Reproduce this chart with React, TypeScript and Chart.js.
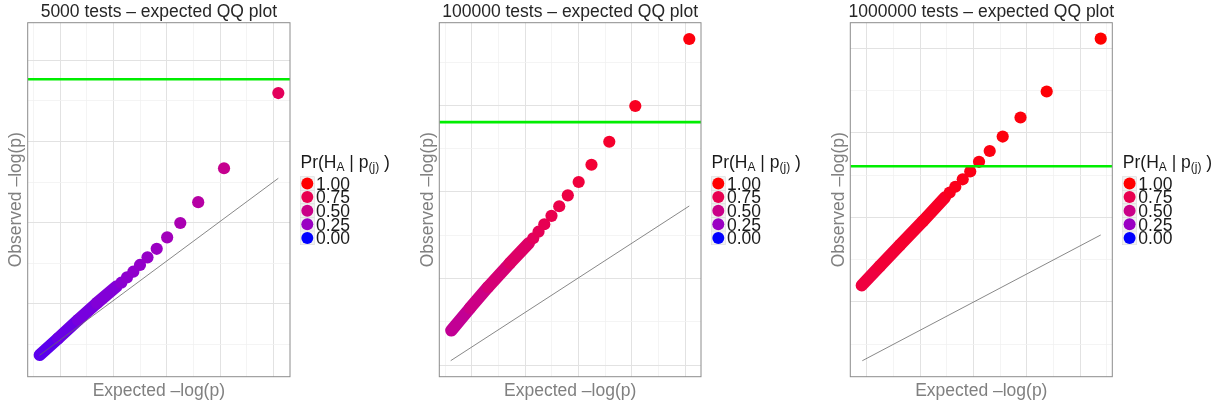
import React, { useEffect, useRef } from "react";
import { Chart, registerables } from "chart.js";

Chart.register(...registerables);

const FONT = '"Liberation Sans", Arial, Helvetica, sans-serif';

// ---------- text ----------
const panelTitles = [
  "5000 tests \u2013 expected QQ plot",
  "100000 tests \u2013 expected QQ plot",
  "1000000 tests \u2013 expected QQ plot",
];
const xAxisTitle = "Expected \u2013log(p)";
const yAxisTitle = "Observed \u2013log(p)";
const legendValues = [1.0, 0.75, 0.5, 0.25, 0.0];
const legendLabels = ["1.00", "0.75", "0.50", "0.25", "0.00"];

// ---------- panel 1 : 5000 tests ----------
const p1BandX = [0.614, 0.957, 1.332, 1.688, 2.05];
const p1BandY = [0.373, 0.576, 0.803, 1.012, 1.213];
const p1BandPr = [0.06, 0.09, 0.12, 0.15, 0.18];
const p1PointX = [2.144, 2.251, 2.369, 2.494, 2.635, 2.808, 3.004, 3.25, 3.586, 4.07, 5.088];
const p1PointY = [1.262, 1.328, 1.397, 1.48, 1.574, 1.679, 1.82, 1.996, 2.252, 2.669, 3.594];
const p1PointPr = [0.19, 0.2, 0.21, 0.22, 0.23, 0.25, 0.28, 0.32, 0.38, 0.47, 0.7];
const p1DiagX = [0.61, 5.088];
const p1DiagY = [0.369, 2.546];
const p1XLim = [0.389, 5.307];
const p1YLim = [0.106, 4.459];
const p1XGrid = [0.5, 1, 1.5, 2, 2.5, 3, 3.5, 4, 4.5, 5];
const p1YGrid = [0.5, 1, 1.5, 2, 2.5, 3, 3.5, 4];

// ---------- panel 2 : 100000 tests ----------
const p2BandX = [0.617, 0.968, 1.306, 1.718, 2.074];
const p2BandY = [1.399, 1.658, 1.901, 2.178, 2.409];
const p2BandPr = [0.42, 0.48, 0.55, 0.62, 0.68];
const p2PointX = [2.153, 2.253, 2.361, 2.496, 2.641, 2.802, 3.006, 3.246, 3.58, 4.068, 5.08];
const p2PointY = [2.464, 2.54, 2.626, 2.723, 2.834, 2.96, 3.114, 3.313, 3.579, 3.992, 4.766];
const p2PointPr = [0.7, 0.72, 0.74, 0.76, 0.78, 0.8, 0.83, 0.86, 0.89, 0.93, 0.98];
const p2DiagX = [0.606, 5.08];
const p2DiagY = [1.05, 2.837];
const p2XLim = [0.392, 5.3];
const p2YLim = [0.865, 4.954];
const p2XGrid = [0.5, 1, 1.5, 2, 2.5, 3, 3.5, 4, 4.5, 5];
const p2YGrid = [1, 1.5, 2, 2.5, 3, 3.5, 4, 4.5];

// ---------- panel 3 : 1000000 tests ----------
const p3BandX = [0.906, 1.249, 1.624, 2.056, 2.468];
const p3BandY = [1.195, 1.424, 1.672, 1.956, 2.237];
const p3BandPr = [0.8, 0.84, 0.87, 0.9, 0.93];
const p3PointX = [2.556, 2.661, 2.8, 2.941, 3.106, 3.306, 3.55, 3.884, 4.375, 5.388];
const p3PointY = [2.293, 2.362, 2.45, 2.542, 2.657, 2.785, 2.956, 3.181, 3.489, 4.114];
const p3PointPr = [0.94, 0.95, 0.95, 0.96, 0.97, 0.97, 0.98, 0.98, 0.99, 1.0];
const p3DiagX = [0.917, 5.388];
const p3DiagY = [0.303, 1.791];
const p3XLim = [0.692, 5.605];
const p3YLim = [0.114, 4.303];
const p3XGrid = [1, 1.5, 2, 2.5, 3, 3.5, 4, 4.5, 5, 5.5];
const p3YGrid = [0.5, 1, 1.5, 2, 2.5, 3, 3.5, 4];

// significance thresholds (green lines)
const greenLevels = [3.763, 3.805, 2.604];

// ---------- layout (not data) ----------
const layouts = [
  { left: 0, width: 410, padLeft: 27.7, padRight: 120 },
  { left: 410, width: 410, padLeft: 29.3, padRight: 119 },
  { left: 820, width: 403, padLeft: 30.3, padRight: 110.7 },
];
const PAD_TOP = 22.7;
const PAD_BOTTOM = 32.3;
const HEIGHT = 409;
const POINT_R = 6.1;

const bandXs = [p1BandX, p2BandX, p3BandX];
const bandYs = [p1BandY, p2BandY, p3BandY];
const bandPrs = [p1BandPr, p2BandPr, p3BandPr];
const pointXs = [p1PointX, p2PointX, p3PointX];
const pointYs = [p1PointY, p2PointY, p3PointY];
const pointPrs = [p1PointPr, p2PointPr, p3PointPr];
const diagXs = [p1DiagX, p2DiagX, p3DiagX];
const diagYs = [p1DiagY, p2DiagY, p3DiagY];
const xLims = [p1XLim, p2XLim, p3XLim];
const yLims = [p1YLim, p2YLim, p3YLim];
const xGrids = [p1XGrid, p2XGrid, p3XGrid];
const yGrids = [p1YGrid, p2YGrid, p3YGrid];

// ---------- colour scale: blue -> red interpolated in Lab ----------
function toLin(c: number) {
  c /= 255;
  return c <= 0.04045 ? c / 12.92 : Math.pow((c + 0.055) / 1.055, 2.4);
}
function rgb2lab(rgb: number[]) {
  const R = toLin(rgb[0]), G = toLin(rgb[1]), B = toLin(rgb[2]);
  const X = (0.4124564 * R + 0.3575761 * G + 0.1804375 * B) / 0.95047;
  const Y = 0.2126729 * R + 0.7151522 * G + 0.072175 * B;
  const Z = (0.0193339 * R + 0.119192 * G + 0.9503041 * B) / 1.08883;
  const f = (t: number) => (t > 0.008856 ? Math.cbrt(t) : 7.787 * t + 16 / 116);
  const fx = f(X), fy = f(Y), fz = f(Z);
  return [116 * fy - 16, 500 * (fx - fy), 200 * (fy - fz)];
}
function lab2rgb(lab: number[]) {
  const fy = (lab[0] + 16) / 116;
  const fx = fy + lab[1] / 500;
  const fz = fy - lab[2] / 200;
  const inv = (t: number) => (t * t * t > 0.008856 ? t * t * t : (t - 16 / 116) / 7.787);
  const X = 0.95047 * inv(fx), Y = inv(fy), Z = 1.08883 * inv(fz);
  const lin = [
    3.2404542 * X - 1.5371385 * Y - 0.4985314 * Z,
    -0.969266 * X + 1.8760108 * Y + 0.041556 * Z,
    0.0556434 * X - 0.2040259 * Y + 1.0572252 * Z,
  ];
  return lin.map((c) => {
    c = Math.max(0, Math.min(1, c));
    const s = c <= 0.0031308 ? 12.92 * c : 1.055 * Math.pow(c, 1 / 2.4) - 0.055;
    return Math.round(Math.max(0, Math.min(1, s)) * 255);
  });
}
const LAB_LOW = rgb2lab([0, 0, 255]);
const LAB_HIGH = rgb2lab([255, 0, 0]);
function prColor(t: number) {
  const l = LAB_LOW.map((v, i) => v + (LAB_HIGH[i] - v) * t);
  const [r, g, b] = lab2rgb(l);
  return `rgb(${r},${g},${b})`;
}

const isMajor = (v: number) => Math.abs(v - Math.round(v)) < 1e-6;
const GRID_MAJOR = "#e2e2e2";
const GRID_MINOR = "#f1f1f1";

function decorPlugin(idx: number) {
  return {
    id: "decor" + idx,
    afterDraw(chart: any) {
      const ctx: CanvasRenderingContext2D = chart.ctx;
      const a = chart.chartArea;
      ctx.save();
      // panel border
      ctx.strokeStyle = "#8c8c8c";
      ctx.lineWidth = 1;
      ctx.strokeRect(a.left, a.top, a.right - a.left, a.bottom - a.top);

      const cx = (a.left + a.right) / 2;
      ctx.textBaseline = "alphabetic";
      ctx.textAlign = "center";
      ctx.font = `17.5px ${FONT}`;
      ctx.fillStyle = "#262626";
      ctx.fillText(panelTitles[idx], cx, 17.3);

      ctx.fillStyle = "#808080";
      ctx.fillText(xAxisTitle, cx, 396);
      ctx.save();
      ctx.translate(a.left - 6.5, (a.top + a.bottom) / 2);
      ctx.rotate(-Math.PI / 2);
      ctx.fillText(yAxisTitle, 0, 0);
      ctx.restore();

      // legend title: Pr(H_A | p_(j) )
      ctx.textAlign = "left";
      ctx.fillStyle = "#1a1a1a";
      let x = a.right + 10.5;
      const by = 167.7;
      const big = `17.5px ${FONT}`;
      const small = `12px ${FONT}`;
      const parts: [string, string, number][] = [
        ["Pr(H", big, 0],
        ["A", small, 3],
        [" | p", big, 0],
        ["(j)", small, 3.5],
        [" )", big, 0],
      ];
      for (const [txt, font, dy] of parts) {
        ctx.font = font;
        ctx.fillText(txt, x, by + dy);
        x += ctx.measureText(txt).width;
      }

      // legend keys
      const kx = a.right + 17.3;
      for (let i = 0; i < legendValues.length; i++) {
        const cy = 183.5 + i * 13.6;
        ctx.fillStyle = "#f2f2f2";
        ctx.fillRect(kx - 7, cy - 6.8, 14, 13.6);
        ctx.strokeStyle = "#dadada";
        ctx.lineWidth = 0.6;
        ctx.strokeRect(kx - 7, cy - 6.8, 14, 13.6);
        ctx.beginPath();
        ctx.arc(kx, cy, 6, 0, Math.PI * 2);
        ctx.fillStyle = prColor(legendValues[i]);
        ctx.fill();
      }
      ctx.font = big;
      ctx.fillStyle = "#1a1a1a";
      for (let i = 0; i < legendLabels.length; i++) {
        const cy = 183.5 + i * 13.6;
        ctx.fillText(legendLabels[i], a.right + 26, cy + 6.3);
      }
      ctx.restore();
    },
  };
}

function buildConfig(idx: number): any {
  const lay = layouts[idx];
  const bx = bandXs[idx], by = bandYs[idx], bp = bandPrs[idx];
  const px = pointXs[idx], py = pointYs[idx], pp = pointPrs[idx];
  const xl = xLims[idx], yl = yLims[idx];
  const band = bx.map((v, i) => ({ x: v, y: by[i] }));
  const pts = px.map((v, i) => ({ x: v, y: py[i] }));
  const diag = diagXs[idx].map((v, i) => ({ x: v, y: diagYs[idx][i] }));
  const green = xl.map((v) => ({ x: v, y: greenLevels[idx] }));

  const gridOpts = {
    color: (c: any) => (isMajor(c.tick.value) ? GRID_MAJOR : GRID_MINOR),
    lineWidth: (c: any) => (isMajor(c.tick.value) ? 1 : 0.8),
    drawTicks: false,
  };

  return {
    type: "scatter",
    data: {
      datasets: [
        {
          data: green,
          showLine: true,
          borderColor: "#00ee00",
          borderWidth: 2.6,
          pointRadius: 0,
          order: 0,
        },
        {
          data: diag,
          showLine: true,
          borderColor: "#6a6a6a",
          borderWidth: 0.8,
          pointRadius: 0,
          order: 1,
        },
        {
          data: pts,
          showLine: false,
          pointRadius: POINT_R,
          pointHoverRadius: POINT_R,
          pointBorderWidth: 0,
          pointBackgroundColor: pp.map(prColor),
          pointBorderColor: pp.map(prColor),
          order: 2,
        },
        {
          data: band,
          showLine: true,
          borderWidth: POINT_R * 2,
          borderCapStyle: "round",
          borderJoinStyle: "round",
          borderColor: prColor(bp[0]),
          pointRadius: 0,
          segment: {
            borderColor: (c: any) => prColor((bp[c.p0DataIndex] + bp[c.p1DataIndex]) / 2),
          },
          order: 3,
        },
      ],
    },
    options: {
      animation: false,
      responsive: true,
      maintainAspectRatio: false,
      events: [],
      layout: {
        padding: { left: lay.padLeft, right: lay.padRight, top: PAD_TOP, bottom: PAD_BOTTOM },
      },
      plugins: { legend: { display: false }, tooltip: { enabled: false }, title: { display: false } },
      scales: {
        x: {
          type: "linear",
          position: "bottom",
          min: xl[0],
          max: xl[1],
          ticks: { display: false },
          border: { display: false },
          grid: gridOpts,
          afterBuildTicks: (s: any) => {
            s.ticks = xGrids[idx].map((v) => ({ value: v }));
          },
        },
        y: {
          type: "linear",
          position: "left",
          min: yl[0],
          max: yl[1],
          ticks: { display: false },
          border: { display: false },
          grid: gridOpts,
          afterBuildTicks: (s: any) => {
            s.ticks = yGrids[idx].map((v) => ({ value: v }));
          },
        },
      },
    },
    plugins: [decorPlugin(idx)],
  };
}

function Panel({ idx }: { idx: number }) {
  const ref = useRef<HTMLCanvasElement | null>(null);
  useEffect(() => {
    if (!ref.current) return;
    const chart = new Chart(ref.current, buildConfig(idx));
    return () => chart.destroy();
  }, [idx]);
  const lay = layouts[idx];
  return (
    <div style={{ position: "absolute", left: lay.left, top: 0, width: lay.width, height: HEIGHT }}>
      <canvas ref={ref} />
    </div>
  );
}

export default function App() {
  return (
    <div
      style={{
        position: "absolute",
        left: 0,
        top: 0,
        width: 1223,
        height: HEIGHT,
        background: "#ffffff",
        overflow: "hidden",
      }}
    >
      {[0, 1, 2].map((i) => (
        <Panel key={i} idx={i} />
      ))}
    </div>
  );
}
